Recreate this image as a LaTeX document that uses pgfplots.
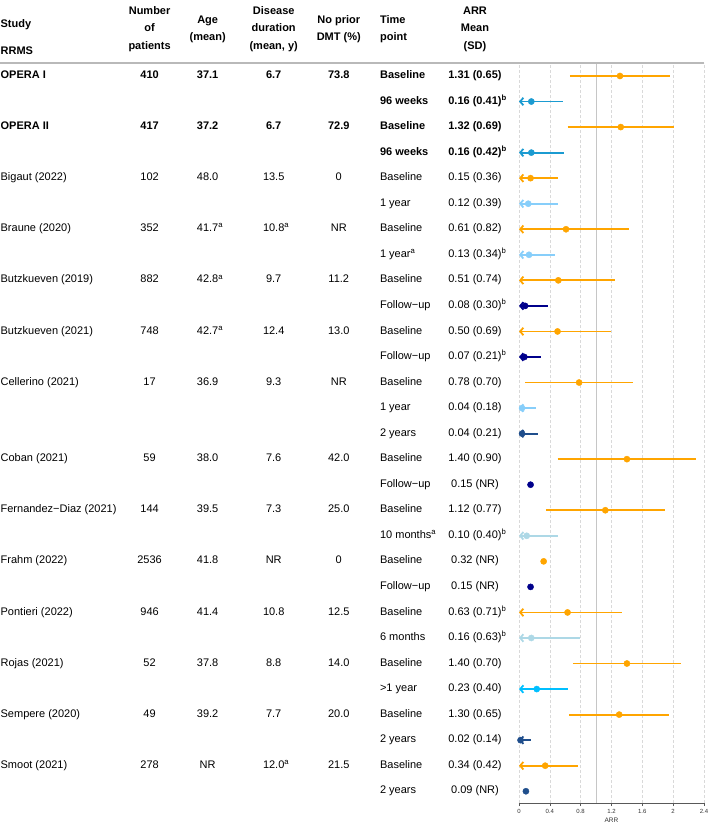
\documentclass[border=0pt]{standalone}
\usepackage{fontspec}
\setmainfont{Liberation Sans}
\usepackage{pgfplots}
\pgfplotsset{compat=1.18}
\usetikzlibrary{arrows.meta}
\definecolor{cbase}{HTML}{FFA500}
\definecolor{cnw}{HTML}{1B9BD1}
\definecolor{clsb}{HTML}{87CEFA}
\definecolor{cnavy}{HTML}{00008B}
\definecolor{cdb}{HTML}{1F4E8C}
\definecolor{clb}{HTML}{ADD8E6}
\definecolor{cdsb}{HTML}{00BFFF}
\newcommand{\supa}{\rlap{\textsuperscript{a}}}
\newcommand{\supb}{\rlap{\textsuperscript{b}}}
\newcommand{\tf}{\fontsize{11}{13}\selectfont}
% segment without / with arrow at 0
\newcommand{\seg}[4]{\addplot[#1, line width=1.8pt, forget plot] coordinates {(#2,-#4) (#3,-#4)};}
\newcommand{\aseg}[4]{\addplot[#1, line width=1.8pt, forget plot, {Straight Barb[length=3.2pt,width=7.5pt]}-] coordinates {(#2,-#4) (#3,-#4)};}
% table row: r, study, n, age, dis, dmt, time, arr, font
\newcommand{\trow}[9]{%
 \node[inner sep=0pt, anchor=mid west, font=\tf#9] at (axis cs:-6.727,-#1) {#2};
 \node[inner sep=0pt, anchor=mid, font=\tf#9] at (axis cs:-4.792,-#1) {#3};
 \node[inner sep=0pt, anchor=mid, font=\tf#9] at (axis cs:-4.039,-#1) {#4};
 \node[inner sep=0pt, anchor=mid, font=\tf#9] at (axis cs:-3.182,-#1) {#5};
 \node[inner sep=0pt, anchor=mid, font=\tf#9] at (axis cs:-2.338,-#1) {#6};
 \node[inner sep=0pt, anchor=mid west, font=\tf#9] at (axis cs:-1.805,-#1) {#7};
 \node[inner sep=0pt, anchor=mid, font=\tf#9] at (axis cs:-0.571,-#1) {#8};
}
\newcommand{\hd}[3]{\node[inner sep=0pt, anchor=mid, font=\tf\bfseries] at (axis cs:#1,#2) {#3};}
\newcommand{\hdl}[3]{\node[inner sep=0pt, anchor=mid west, font=\tf\bfseries] at (axis cs:#1,#2) {#3};}
\begin{document}
\begin{tikzpicture}
\useasboundingbox (-519pt,-23pt) rectangle (190pt,803pt);
\begin{axis}[
  scale only axis, width=185pt, height=740pt,
  xmin=0, xmax=2.4, ymin=-29.46, ymax=-0.491,
  clip=false,
  axis y line=none, axis x line*=bottom,
  axis line style={gray!70!black, line width=0.6pt},
  xtick={0,0.4,...,2.4},
  ytick=\empty,
  tick align=outside, major tick length=3pt,
  tick style={gray!70!black, line width=0.6pt},
  xticklabel style={font=\fontsize{6}{7}\selectfont, text=gray!40!black},
  /pgf/number format/assume math mode=true,
  xlabel={ARR},
  xlabel style={font=\fontsize{6.5}{7}\selectfont, text=gray!40!black, yshift=3pt},
  xmajorgrids,
  major grid style={densely dashed, gray!30, line width=0.5pt},
]
% reference line at 1
\addplot[gray!45, line width=0.8pt, forget plot] coordinates {(1,-0.491) (1,-29.46)};
% header separator
\draw[gray!55, line width=1.6pt] (axis cs:-6.74,-0.491) -- (axis cs:2.4,-0.491);

% Baseline (orange)
\seg{cbase}{0.66}{1.96}{1}
\seg{cbase}{0.63}{2.01}{3}
\aseg{cbase}{0}{0.51}{5}
\aseg{cbase}{0}{1.43}{7}
\aseg{cbase}{0}{1.25}{9}
\aseg{cbase}{0}{1.19}{11}
\seg{cbase}{0.08}{1.48}{13}
\seg{cbase}{0.50}{2.30}{16}
\seg{cbase}{0.35}{1.89}{18}
\aseg{cbase}{0}{1.34}{22}
\seg{cbase}{0.70}{2.10}{24}
\seg{cbase}{0.65}{1.95}{26}
\aseg{cbase}{0}{0.76}{28}
% 96 weeks
\aseg{cnw}{0}{0.57}{2}
\aseg{cnw}{0}{0.58}{4}
% 1 year
\aseg{clsb}{0}{0.51}{6}
\aseg{clsb}{0}{0.47}{8}
\aseg{clsb}{0}{0.22}{14}
% follow-up
\aseg{cnavy}{0}{0.38}{10}
\aseg{cnavy}{0}{0.28}{12}
% 2 years
\aseg{cdb}{0}{0.25}{15}
\aseg{cdb}{0}{0.16}{27}
% 10 / 6 months
\aseg{clb}{0}{0.50}{19}
\aseg{clb}{0}{0.79}{23}
% >1 year
\aseg{cdsb}{0}{0.63}{25}

\addplot[only marks, mark=*, mark size=3.1pt, cbase, forget plot] coordinates {
(1.31,-1) (1.32,-3) (0.15,-5) (0.61,-7) (0.51,-9) (0.50,-11) (0.78,-13)
(1.40,-16) (1.12,-18) (0.32,-20) (0.63,-22) (1.40,-24) (1.30,-26) (0.34,-28)};
\addplot[only marks, mark=*, mark size=3.1pt, cnw, forget plot] coordinates {(0.16,-2) (0.16,-4)};
\addplot[only marks, mark=*, mark size=3.1pt, clsb, forget plot] coordinates {(0.12,-6) (0.13,-8) (0.04,-14)};
\addplot[only marks, mark=*, mark size=3.1pt, cnavy, forget plot] coordinates {(0.08,-10) (0.07,-12) (0.15,-17) (0.15,-21)};
\addplot[only marks, mark=*, mark size=3.1pt, cdb, forget plot] coordinates {(0.04,-15) (0.02,-27) (0.09,-29)};
\addplot[only marks, mark=*, mark size=3.1pt, clb, forget plot] coordinates {(0.10,-19) (0.16,-23)};
\addplot[only marks, mark=*, mark size=3.1pt, cdsb, forget plot] coordinates {(0.23,-25)};

% header
\hdl{-6.727}{1.014}{Study}
\hdl{-6.727}{-0.043}{RRMS}
\hd{-4.792}{1.523}{Number}
\hd{-4.792}{0.858}{of}
\hd{-4.792}{0.153}{patients}
\hd{-4.039}{1.171}{Age}
\hd{-4.039}{0.505}{(mean)}
\hd{-3.182}{1.523}{Disease}
\hd{-3.182}{0.858}{duration}
\hd{-3.182}{0.153}{(mean, y)}
\hd{-2.338}{1.171}{No prior}
\hd{-2.338}{0.505}{DMT (\%)}
\hdl{-1.805}{1.171}{Time}
\hdl{-1.805}{0.505}{point}
\hd{-0.571}{1.523}{ARR}
\hd{-0.571}{0.858}{Mean}
\hd{-0.571}{0.153}{(SD)}

% table body
\trow{1}{OPERA I}{410}{37.1}{6.7}{73.8}{Baseline}{1.31 (0.65)}{\bfseries}
\trow{2}{}{}{}{}{}{96 weeks}{0.16 (0.41)\supb}{\bfseries}
\trow{3}{OPERA II}{417}{37.2}{6.7}{72.9}{Baseline}{1.32 (0.69)}{\bfseries}
\trow{4}{}{}{}{}{}{96 weeks}{0.16 (0.42)\supb}{\bfseries}
\trow{5}{Bigaut (2022)}{102}{48.0}{13.5}{0}{Baseline}{0.15 (0.36)}{}
\trow{6}{}{}{}{}{}{1 year}{0.12 (0.39)}{}
\trow{7}{Braune (2020)}{352}{41.7\supa}{10.8\supa}{NR}{Baseline}{0.61 (0.82)}{}
\trow{8}{}{}{}{}{}{1 year\supa}{0.13 (0.34)\supb}{}
\trow{9}{Butzkueven (2019)}{882}{42.8\supa}{9.7}{11.2}{Baseline}{0.51 (0.74)}{}
\trow{10}{}{}{}{}{}{Follow−up}{0.08 (0.30)\supb}{}
\trow{11}{Butzkueven (2021)}{748}{42.7\supa}{12.4}{13.0}{Baseline}{0.50 (0.69)}{}
\trow{12}{}{}{}{}{}{Follow−up}{0.07 (0.21)\supb}{}
\trow{13}{Cellerino (2021)}{17}{36.9}{9.3}{NR}{Baseline}{0.78 (0.70)}{}
\trow{14}{}{}{}{}{}{1 year}{0.04 (0.18)}{}
\trow{15}{}{}{}{}{}{2 years}{0.04 (0.21)}{}
\trow{16}{Coban (2021)}{59}{38.0}{7.6}{42.0}{Baseline}{1.40 (0.90)}{}
\trow{17}{}{}{}{}{}{Follow−up}{0.15 (NR)}{}
\trow{18}{Fernandez−Diaz (2021)}{144}{39.5}{7.3}{25.0}{Baseline}{1.12 (0.77)}{}
\trow{19}{}{}{}{}{}{10 months\supa}{0.10 (0.40)\supb}{}
\trow{20}{Frahm (2022)}{2536}{41.8}{NR}{0}{Baseline}{0.32 (NR)}{}
\trow{21}{}{}{}{}{}{Follow−up}{0.15 (NR)}{}
\trow{22}{Pontieri (2022)}{946}{41.4}{10.8}{12.5}{Baseline}{0.63 (0.71)\supb}{}
\trow{23}{}{}{}{}{}{6 months}{0.16 (0.63)\supb}{}
\trow{24}{Rojas (2021)}{52}{37.8}{8.8}{14.0}{Baseline}{1.40 (0.70)}{}
\trow{25}{}{}{}{}{}{>1 year}{0.23 (0.40)}{}
\trow{26}{Sempere (2020)}{49}{39.2}{7.7}{20.0}{Baseline}{1.30 (0.65)}{}
\trow{27}{}{}{}{}{}{2 years}{0.02 (0.14)}{}
\trow{28}{Smoot (2021)}{278}{NR}{12.0\supa}{21.5}{Baseline}{0.34 (0.42)}{}
\trow{29}{}{}{}{}{}{2 years}{0.09 (NR)}{}
\end{axis}
\end{tikzpicture}
\end{document}
